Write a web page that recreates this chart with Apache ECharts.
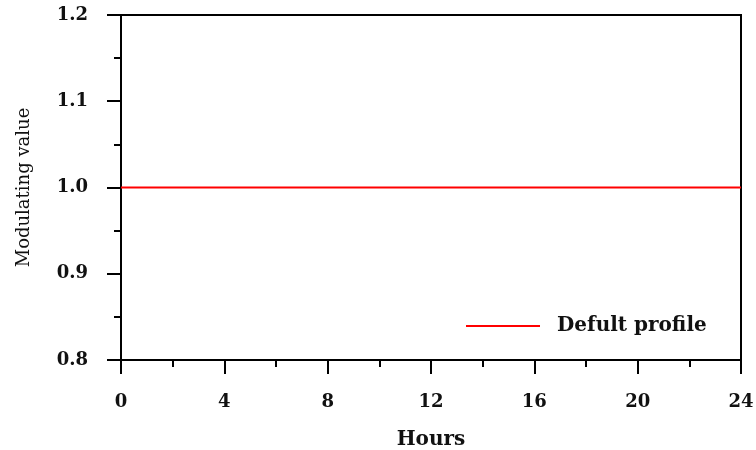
<!DOCTYPE html>
<html>
<head>
<meta charset="utf-8">
<script src="https://cdn.jsdelivr.net/npm/echarts@6/dist/echarts.min.js"></script>
<style>
html,body{margin:0;padding:0;background:#fff;}
#chart{width:756px;height:450px;}
</style>
</head>
<body>
<div id="chart"></div>
<script>
// data
var hours = [0, 24]
var profile = [1.0, 1.0]
var seriesName = "Defult profile"

var serif = "DejaVu Serif"
var chart = echarts.init(document.getElementById("chart"))
var option = {
	animation: false,
	grid: {
		left: 121, right: 15, top: 15, bottom: 90,
		outerBoundsMode: "none", containLabel: false,
		show: true, borderColor: "#000", borderWidth: 2
	},
	legend: {
		left: 461, top: 311,
		icon: "rect", itemWidth: 74, itemHeight: 2,
		textStyle: {fontFamily: serif, fontWeight: "bold", fontSize: 20, color: "#111", padding: [0, 0, 0, 12]},
		data: [seriesName]
	},
	xAxis: {
		type: "value", min: 0, max: 24, interval: 4,
		name: "Hours", nameLocation: "middle", nameGap: 70,
		nameTextStyle: {fontFamily: serif, fontWeight: "bold", fontSize: 20, color: "#111"},
		axisLine: {lineStyle: {color: "#000", width: 2}},
		axisTick: {show: true, length: 14, lineStyle: {color: "#000", width: 2}},
		minorTick: {show: true, splitNumber: 2, length: 7, lineStyle: {color: "#000", width: 2}},
		axisLabel: {margin: 33, fontFamily: serif, fontWeight: "bold", fontSize: 18, color: "#111"},
		splitLine: {show: false}
	},
	yAxis: {
		type: "value", min: 0.8, max: 1.2, interval: 0.1,
		name: "Modulating value", nameLocation: "middle", nameGap: 88,
		nameTextStyle: {fontFamily: serif, fontSize: 18, color: "#111"},
		axisLine: {lineStyle: {color: "#000", width: 2}},
		axisTick: {show: true, length: 14, lineStyle: {color: "#000", width: 2}},
		minorTick: {show: true, splitNumber: 2, length: 7, lineStyle: {color: "#000", width: 2}},
		axisLabel: {
			margin: 33, fontFamily: serif, fontWeight: "bold", fontSize: 18, color: "#111",
			formatter: function (v) { return v.toFixed(1) }
		},
		splitLine: {show: false}
	},
	series: [{
		name: seriesName,
		type: "line",
		data: hours.map(function (h, i) { return [h, profile[i]] }),
		showSymbol: false,
		lineStyle: {color: "#ff0000", width: 2},
		itemStyle: {color: "#ff0000"}
	}]
}
chart.setOption(option)
</script>
</body>
</html>
